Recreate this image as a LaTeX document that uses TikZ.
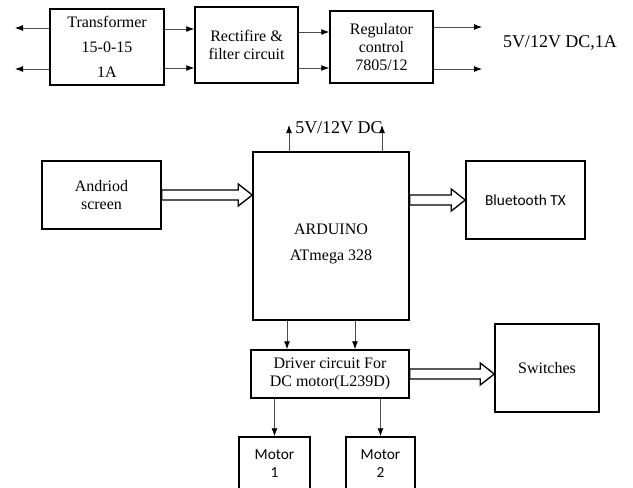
\documentclass[tikz,border=0pt]{standalone}
\usepackage{fontspec}
\setmainfont{Liberation Serif}
\newfontfamily\calibri{Carlito}
\usetikzlibrary{arrows.meta,calc}

\def\px{0.75pt}
\tikzset{
    blk/.style={draw,line width=1.1pt,inner sep=0pt,align=center,font=\fontsize{12}{13.5}\selectfont},
    arr/.style={draw=black!70,line width=0.7pt,-{Latex[length=6pt,width=4.5pt,color=black]}},
    fat/.style={to path={let \p1=(\tikztostart), \p2=(\tikztotarget) in
        (\x1,\y1+3.75pt) -- (\x2-10.5pt,\y1+3.75pt) -- (\x2-10.5pt,\y1+8.25pt) -- (\x2,\y1)
        -- (\x2-10.5pt,\y1-8.25pt) -- (\x2-10.5pt,\y1-3.75pt) -- (\x1,\y1-3.75pt) -- cycle}},
    fatarr/.style={draw,line width=1pt,fill=white,line join=miter}
}

\begin{document}
\begin{tikzpicture}[x=0.75pt,y=-0.75pt]
\useasboundingbox (0,0) rectangle (633,487);
\clip (0,0) rectangle (633,487);

% power supply
\node[blk,minimum width=114*\px,minimum height=76*\px,font=\fontsize{12}{19}\selectfont] (trans) at (107,47) {Transformer\\15-0-15\\1A};
\node[blk,minimum width=103*\px,minimum height=76*\px] (rect) at (246.5,45) {Rectifire \&\\filter circuit};
\node[blk,minimum width=103*\px,minimum height=72*\px] (reg) at (381.5,47) {Regulator\\control\\7805/12};
\node[font=\fontsize{13.5}{15}\selectfont] (out) at (560,43) {5V/12V DC,1A};

\coordinate (l1) at (15,28);
\coordinate (l2) at (15,69);
\coordinate (r1) at (482,27);
\coordinate (r2) at (482,69);

\draw[arr] (trans.west |- l1) -- (l1);
\draw[arr] (trans.west |- l2) -- (l2);
\draw[arr] (trans.east |- 0,29) -- (rect.west |- 0,29);
\draw[arr] (trans.east |- 0,68) -- (rect.west |- 0,68);
\draw[arr] (rect.east |- 0,32) -- (reg.west |- 0,32);
\draw[arr] (rect.east |- 0,68) -- (reg.west |- 0,68);
\draw[arr] (reg.east |- r1) -- (r1);
\draw[arr] (reg.east |- r2) -- (r2);

% controller
\node[blk,minimum width=119*\px,minimum height=68*\px] (andriod) at (101.5,195) {Andriod\\screen};
\node[blk,minimum width=156*\px,minimum height=168*\px] (arduino) at (331,236) {};
\node[font=\fontsize{12}{19.5}\selectfont,align=center] (ardtxt) at (331,243.5) {ARDUINO\\ATmega 328};
\node[blk,minimum width=119*\px,minimum height=78*\px,font=\calibri\fontsize{11.5}{13}\selectfont] (bt) at (525.5,200) {Bluetooth TX};
\node[blk,minimum width=158*\px,minimum height=48*\px] (driver) at (330,374) {Driver circuit For\\DC motor(L239D)};
\node[blk,minimum width=104*\px,minimum height=88*\px] (switches) at (547,368) {Switches};
\node[blk,minimum width=71*\px,minimum height=54*\px,font=\calibri\fontsize{11.5}{13.5}\selectfont] (motor1) at (274.5,464) {Motor\\1};
\node[blk,minimum width=69*\px,minimum height=54*\px,font=\calibri\fontsize{11.5}{13.5}\selectfont] (motor2) at (380.5,464) {Motor\\2};

\coordinate (u1) at (289,125);
\coordinate (u2) at (382,125);
\node[font=\fontsize{13.5}{15}\selectfont] (dc) at (339,128) {5V/12V DC};

\draw[arr] (arduino.north -| u1) -- (u1);
\draw[arr] (arduino.north -| u2) -- (u2);
\draw[arr] (arduino.south -| 287,0) -- (driver.north -| 287,0);
\draw[arr] (arduino.south -| 355,0) -- (driver.north -| 355,0);
\draw[arr] (driver.south -| motor1.north) -- (motor1.north);
\draw[arr] (driver.south -| motor2.north) -- (motor2.north);

\draw[fatarr] (andriod.east) to[fat] (andriod.east -| arduino.west);
\draw[fatarr] (arduino.east |- bt.west) to[fat] (bt.west);
\draw[fatarr] (driver.east) to[fat] (driver.east -| switches.west);

\end{tikzpicture}
\end{document}
